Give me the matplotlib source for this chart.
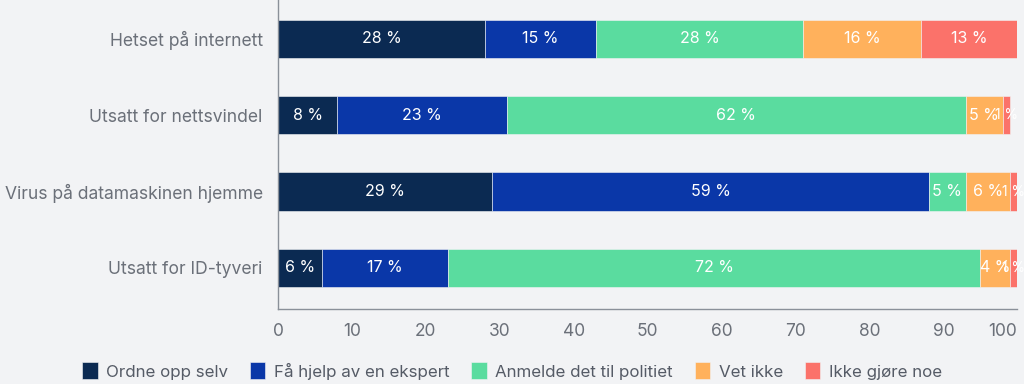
import numpy as np
import matplotlib.pyplot as plt

plt.rcParams['font.family'] = ['Inter', 'DejaVu Sans']

categories = ['Hetset på internett', 'Utsatt for nettsvindel',
              'Virus på datamaskinen hjemme', 'Utsatt for ID-tyveri']
series = ['Ordne opp selv', 'Få hjelp av en ekspert', 'Anmelde det til politiet',
          'Vet ikke', 'Ikke gjøre noe']
values = np.array([
    [28, 15, 28, 16, 13],
    [8, 23, 62, 5, 1],
    [29, 59, 5, 6, 1],
    [6, 17, 72, 4, 1],
])
colors = ['#0b2a52', '#0a37a8', '#5adc9f', '#ffb15c', '#fb726a']

bg = '#f2f3f5'
fig = plt.figure(figsize=(10.24, 3.84), dpi=100, facecolor=bg)
ax = fig.add_axes([0.2715, 0.195, 0.722, 0.805], facecolor=bg)

y = np.arange(len(categories))
left = np.zeros(len(categories))
for i, name in enumerate(series):
    vals = values[:, i]
    ax.barh(y, vals, left=left, height=0.5, color=colors[i], label=name,
            edgecolor='#f2f3f5', linewidth=0.4)
    for yy, l, v in zip(y, left, vals):
        # tiny segments get a slightly smaller label so they stay inside the figure
        fs = 11.5 if v >= 3 else 10
        ax.text(l + v / 2, yy, f'{v} %', ha='center', va='center',
                color='white', fontsize=fs)
    left += vals

ax.set_xlim(0, 100)
ax.set_ylim(3.54, -0.51)
ax.set_yticks(y)
ax.set_yticklabels(categories, fontsize=12.6, color='#6b7079')
ax.set_xticks(np.arange(0, 101, 10))
ax.tick_params(axis='x', labelsize=12.5, labelcolor='#6b7079', length=0, pad=10)
ax.tick_params(axis='y', length=0, pad=11)
ax.get_xticklabels()[-1].set_horizontalalignment('right')
for s in ['top', 'right']:
    ax.spines[s].set_visible(False)
for s in ['left', 'bottom']:
    ax.spines[s].set_color('#8a9099')
    ax.spines[s].set_linewidth(1)

fig.legend(loc='lower center', bbox_to_anchor=(0.5, -0.028), ncol=5, frameon=False,
           fontsize=12.2, labelcolor='#555b66', handlelength=0.9, handleheight=1.2,
           columnspacing=1.3, handletextpad=0.5)

fig.savefig('out.png', dpi=100, facecolor=bg)
